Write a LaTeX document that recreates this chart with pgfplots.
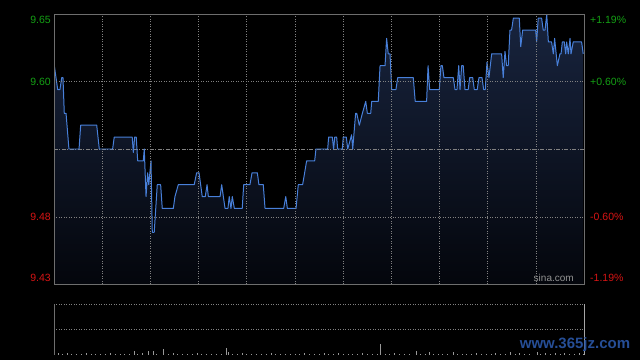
\documentclass[border=0pt]{standalone}
\usepackage{fontspec}
\setmainfont{Liberation Sans}
\usepackage{pgfplots}
\usepackage{pgfplotstable}
\pgfplotsset{compat=1.18}
\definecolor{linec}{RGB}{72,128,218}
\definecolor{fillTop}{RGB}{24,36,62}
\definecolor{fillBot}{RGB}{4,6,12}
\definecolor{gridc}{RGB}{130,130,130}
\definecolor{framec}{RGB}{110,110,110}
\definecolor{upc}{RGB}{20,160,20}
\definecolor{dnc}{RGB}{215,20,20}
\definecolor{wmark}{RGB}{38,78,150}

\pgfplotstableread{
t p
0.2 9.61
2.3 9.59
3.7 9.59
4.8 9.60
5.6 9.60
6.4 9.57
7.5 9.57
9.3 9.54
15.6 9.54
16.6 9.56
26.6 9.56
28.2 9.54
36.5 9.54
37.5 9.55
48.7 9.55
49.4 9.537
50.2 9.55
51.2 9.55
52.1 9.53
55.6 9.53
56.2 9.54
57.3 9.50
58.3 9.52
59.0 9.51
60.4 9.53
61.2 9.47
62.4 9.47
64.3 9.51
66.4 9.51
67.4 9.49
74.3 9.49
75.3 9.50
77.4 9.51
87.3 9.51
88.8 9.52
90.3 9.52
92.3 9.50
94.2 9.50
95.3 9.51
96.1 9.50
103.4 9.50
104.4 9.51
106.5 9.49
108.3 9.49
109.1 9.50
110.2 9.49
111.0 9.50
112.3 9.49
117.2 9.49
118.1 9.51
122.0 9.51
123.3 9.52
126.6 9.52
127.6 9.51
130.3 9.51
131.4 9.49
143.0 9.49
144.3 9.50
145.3 9.49
150.7 9.49
152.1 9.51
154.8 9.51
157.3 9.53
162.3 9.53
163.1 9.54
170.4 9.54
171.0 9.55
173.3 9.55
174.1 9.54
174.8 9.55
176.0 9.55
176.6 9.54
179.5 9.54
180.1 9.55
182.0 9.55
182.9 9.54
185.3 9.552
186.0 9.54
187.8 9.57
188.5 9.57
190.1 9.56
192.0 9.57
194.1 9.58
195.1 9.57
197.2 9.57
197.8 9.58
201.9 9.58
203.0 9.61
206.1 9.61
207.1 9.633
208.1 9.62
209.2 9.62
210.3 9.59
212.9 9.59
214.0 9.60
223.7 9.60
224.9 9.58
232.0 9.58
232.9 9.61
233.9 9.59
239.9 9.59
240.9 9.61
241.8 9.61
242.8 9.60
248.6 9.60
249.7 9.59
250.9 9.59
252.0 9.61
252.8 9.59
253.8 9.61
254.8 9.61
255.9 9.59
257.9 9.59
258.8 9.60
260.7 9.60
261.7 9.59
263.5 9.59
264.6 9.60
266.5 9.60
267.5 9.59
268.5 9.59
269.6 9.613
270.8 9.60
272.5 9.62
278.7 9.62
279.7 9.60
280.8 9.622
281.8 9.61
282.8 9.61
283.9 9.64
284.9 9.64
286.0 9.65
289.7 9.65
290.6 9.626
291.8 9.64
299.9 9.64
300.5 9.63
301.5 9.65
303.6 9.65
304.6 9.64
305.7 9.64
306.8 9.653
307.8 9.63
309.8 9.63
310.9 9.62
311.7 9.633
313.4 9.61
315.0 9.62
315.7 9.62
316.5 9.63
317.7 9.63
318.6 9.62
319.2 9.63
320.2 9.62
321.3 9.633
321.9 9.62
323.3 9.63
328.5 9.63
329.5 9.62
}\pricetable

\pgfplotstableread{
t v
0.3 6
2.5 2
5 1
8 1.5
11 1
14 1
17 1
20 1.5
23 1
26 1
29 1
32 1
35 1.5
38 1
41 1
44 1
47 1
49.8 4
52 1
55 1.5
58.5 4
61.6 4
64 1
67.9 6
71 1
74 1.5
77 1
80 1
83 1
86 1
89 1.5
92 1
95 1
98 1
101 1
104 1
107.1 7
108.3 3
111 1
114 1
117 1.5
120 1
123 1
126 1
129 1
132 1
135 1.5
138 1
141 1
144 1
147 1
150 1
153 1
156 1.5
159 1
162 1
165 1
168 1.5
171 1
174 1
177 1.5
180 1
183 1
186 1
189 1
192 1.5
195 1
198 1
201 1
203 11
206 1
209 1
212 1.5
215 1
218 1
221 1
225.4 4
228 1
231 1
233.5 2.5
236 1
239 1
242 1
245 1
248.4 3
251 1
254 1
257 1
260 1
263 1.5
266 1
269 1
272 1
275 1.5
278 1
281 1
283.9 3
287 1
290 1.5
293 1
296 1
300.7 3
303 1
306 1.5
309 1
312 2
315 1
318 1.5
321 1
324 1
327 1.5
329.5 1
}\voltable

\begin{document}
\begin{tikzpicture}[x=1bp,y=1bp]
\fill[black] (0,0) rectangle (640,360);
\useasboundingbox (0,0) rectangle (640,360);
\begin{axis}[
  at={(54bp,76bp)}, anchor=south west,
  scale only axis, width=530bp, height=270bp,
  xmin=0, xmax=330, ymin=9.4265, ymax=9.6535,
  xtick={30,60,...,300}, ytick={9.4828,9.5972},
  xticklabels={}, yticklabels={},
  major tick length=0pt,
  grid=major,
  grid style={gridc, line width=0.6pt, dash pattern=on 1pt off 1.5pt},
  axis line style={framec, line width=0.9pt},
  axis on top,
  clip mode=individual,
  font=\fontsize{10.5bp}{12bp}\selectfont,
]
\addplot[draw=none, top color=fillTop, bottom color=fillBot] table[x=t,y=p]{\pricetable} \closedcycle;
\draw[gridc, line width=0.7pt, dash pattern=on 4pt off 1.5pt on 1pt off 1.5pt] (axis cs:0,9.54) -- (axis cs:330,9.54);
\addplot[linec, line width=1pt, line join=round] table[x=t,y=p]{\pricetable};
\node[anchor=east, upc, inner sep=0pt] at ([xshift=-3bp]axis description cs:0,0.978) {9.65};
\node[anchor=east, upc, inner sep=0pt] at ([xshift=-3bp]axis description cs:0,0.748) {9.60};
\node[anchor=east, dnc, inner sep=0pt] at ([xshift=-3bp]axis description cs:0,0.248) {9.48};
\node[anchor=east, dnc, inner sep=0pt] at ([xshift=-3bp]axis description cs:0,0.022) {9.43};
\node[anchor=west, upc, inner sep=0pt] at ([xshift=6bp]axis description cs:1,0.978) {+1.19\%};
\node[anchor=west, upc, inner sep=0pt] at ([xshift=6bp]axis description cs:1,0.748) {+0.60\%};
\node[anchor=west, dnc, inner sep=0pt] at ([xshift=6bp]axis description cs:1,0.248) {-0.60\%};
\node[anchor=west, dnc, inner sep=0pt] at ([xshift=6bp]axis description cs:1,0.022) {-1.19\%};
\node[anchor=base east, inner sep=0pt, color=gray!85!white, font=\fontsize{10bp}{12bp}\selectfont] at (axis description cs:0.981,0.01) {sina.com};
\end{axis}
\begin{axis}[
  at={(54bp,5.3bp)}, anchor=south west,
  scale only axis, width=530bp, height=50.4bp,
  xmin=0, xmax=330, ymin=0, ymax=50,
  xtick=\empty, ytick={25,50}, yticklabels={},
  major tick length=0pt,
  ymajorgrids,
  grid style={gridc, line width=0.6pt, dash pattern=on 1pt off 1.5pt},
  axis line style={draw=none},
  clip=false,
]
\addplot[ycomb, color=gray!80!white, line width=0.6pt, mark=none] table[x=t,y=v]{\voltable};
\draw[framec, line width=0.9pt] (axis cs:0,0) -- (axis cs:0,50);
\draw[gray!70!white, line width=0.9pt] (axis cs:330,0) -- (axis cs:330,50);
\end{axis}
\node[font=\bfseries\fontsize{15bp}{17bp}\selectfont, wmark] at (575,15) {www.365jz.com};
\end{tikzpicture}
\end{document}
